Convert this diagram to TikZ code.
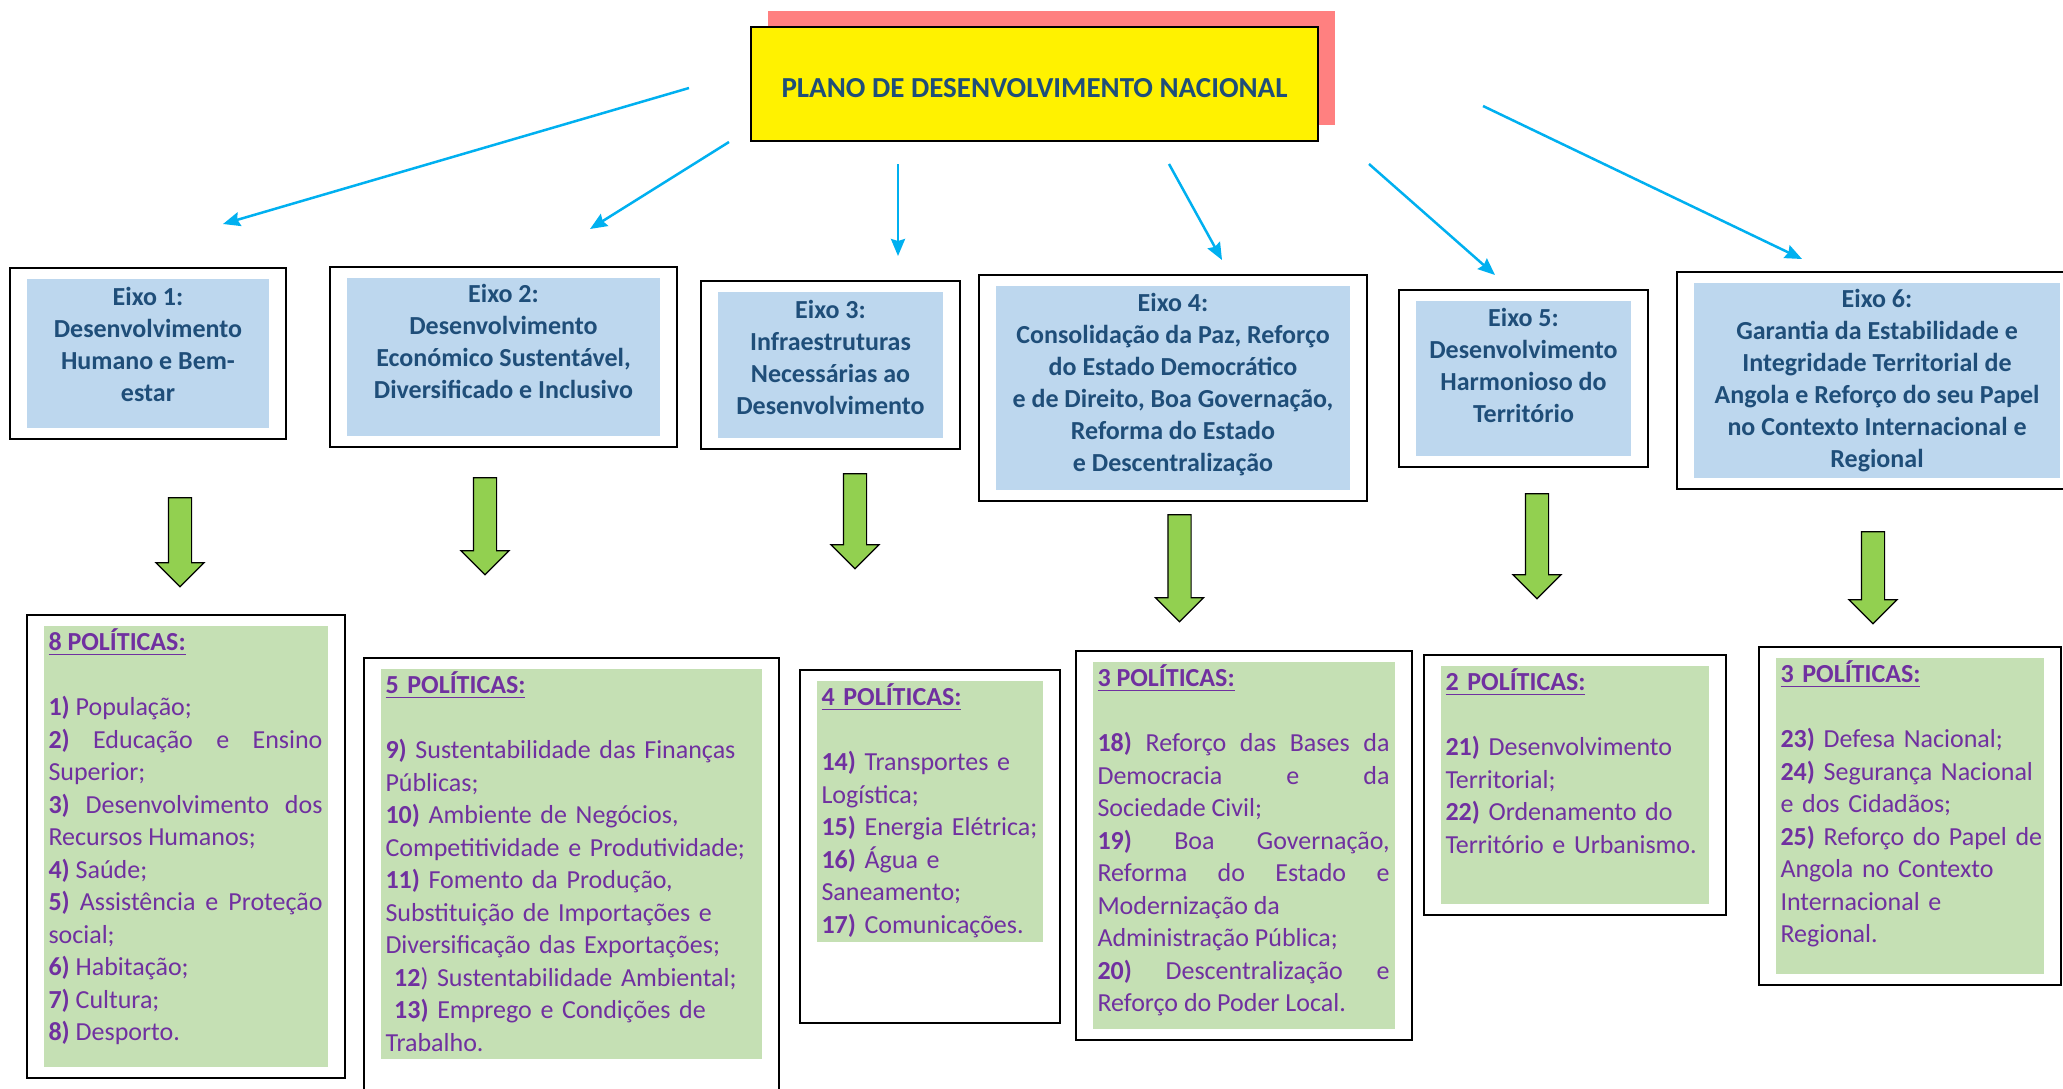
\documentclass[tikz,border=0pt]{standalone}
\usepackage{fontspec}
\setmainfont{Carlito}
\usetikzlibrary{positioning,fit,shapes.arrows,shadows,arrows.meta}

\definecolor{eixoblue}{HTML}{BDD7EE}
\definecolor{eixotext}{HTML}{1F4E79}
\definecolor{polgreen}{HTML}{C5E0B4}
\definecolor{polpurple}{HTML}{7030A0}
\definecolor{linkblue}{HTML}{00B0F0}
\definecolor{arrowgreen}{HTML}{92D050}
\definecolor{titlepink}{HTML}{FF8080}

\tikzset{
  plan/.style={fill=yellow, draw=black, line width=2pt, minimum width=567pt,
    minimum height=114pt, text=eixotext, font=\fontsize{29}{35}\selectfont\bfseries,
    text height=26.7pt,
    general shadow={fill=titlepink, shadow xshift=17pt, shadow yshift=16pt}},
  eixo/.style={fill=eixoblue, text=eixotext, align=center, inner sep=0pt,
    font=\fontsize{26}{32}\selectfont\bfseries},
  frame/.style={draw=black, line width=2pt, inner xsep=16.5pt, inner ysep=10.5pt},
  polfill/.style={fill=polgreen, inner sep=0pt},
  poltext/.style={anchor=north west, text=polpurple, inner xsep=4.5pt,
    inner ysep=3pt, font=\fontsize{26}{32.5}\selectfont},
  link/.style={->, draw=linkblue, line width=2.5pt},
  down/.style={single arrow, draw=black, line width=1.2pt, fill=arrowgreen,
    rotate=-90, inner xsep=0pt, inner ysep=11pt, minimum width=47pt,
    single arrow head extend=12.5pt, single arrow head indent=0pt,
    single arrow tip angle=90}
}
\newcommand{\polhead}[1]{\leavevmode\vtop{\hbox{\textbf{#1 POLÍTICAS:}}\kern2.5pt
  \hrule height 1.8pt}\\[32.5pt]}

\begin{document}
\begin{tikzpicture}[x=1pt,y=-1pt,>={Stealth[length=17pt,width=14pt,inset=2pt]}]
    \useasboundingbox[fill=white] (0,0) rectangle (2063,1088);

    \node[plan] (pdn) at (1034.5,84) {PLANO DE DESENVOLVIMENTO NACIONAL};

    % eixos
    \node[eixo, minimum width=242pt, minimum height=149pt, text depth=18pt] (e1)
    at (148,353.5) {Eixo 1:\\Desenvolvimento\\Humano e Bem-\\estar};
    \node[eixo, minimum width=313pt, minimum height=158pt, text depth=32pt] (e2)
    at (503.5,357) {Eixo 2:\\Desenvolvimento\\Económico Sustentável,\\Diversificado
    e Inclusivo};
    \node[eixo, minimum width=225pt, minimum height=146pt, text depth=16pt] (e3)
    at (830.5,365) {Eixo 3:\\Infraestruturas\\Necessárias ao\\Desenvolvimento};
    \node[eixo, minimum width=354pt, minimum height=204pt, text depth=11pt] (e4)
    at (1173,388) {Eixo 4:\\Consolidação da Paz, Reforço\\do Estado Democrático\\e
    de Direito, Boa Governação,\\Reforma do Estado\\e Descentralização};
    \node[eixo, minimum width=215pt, minimum height=155pt, text depth=26pt] (e5)
    at (1523.5,378.5) {Eixo 5:\\Desenvolvimento\\Harmonioso do\\Território};
    \node[eixo, minimum width=366pt, minimum height=195pt] (e6) at (1877,380.5)
    {Eixo 6:\\Garantia da Estabilidade e\\Integridade Territorial de\\Angola e
    Reforço do seu Papel\\no Contexto Internacional e\\Regional};
    \foreach \i in {1,...,6} \node[frame, fit=(e\i)] (f\i) {};

    % politicas
    \node[polfill, minimum width=284pt, minimum height=441pt] (p1) at (186,846.5) {};
    \node[polfill, minimum width=381pt, minimum height=390pt] (p2) at (571.5,864) {};
    \node[polfill, minimum width=226pt, minimum height=261pt] (p3) at (930,811.5) {};
    \node[polfill, minimum width=302pt, minimum height=367pt] (p4) at (1244,845.5) {};
    \node[polfill, minimum width=268pt, minimum height=238pt] (p5) at (1575,785) {};
    \node[polfill, minimum width=268pt, minimum height=316pt] (p6) at (1910,816) {};
    \coordinate (p2end) at (571.5,1085);
    \coordinate (p3end) at (930,1012.5);

    \node[poltext, text width=274pt, align=justify] (t1) at (p1.north west)
    {\polhead{8}\textbf{1)} População;\\\textbf{2)} Educação e Ensino\linebreak
    Superior;\\\textbf{3)} Desenvolvimento dos\linebreak Recursos Humanos;\\
    \textbf{4)} Saúde;\\\textbf{5)} Assistência e Proteção\linebreak social;\\
    \textbf{6)} Habitação;\\\textbf{7)} Cultura;\\\textbf{8)} Desporto.};
    \node[poltext, text width=390pt, align=left] (t2) at (p2.north west)
    {\polhead{5}\textbf{9)} Sustentabilidade das Finanças\\Públicas;\\
    \textbf{10)} Ambiente de Negócios,\\Competitividade e Produtividade;\\
    \textbf{11)} Fomento da Produção,\\Substituição de Importações e\\
    Diversificação das Exportações;\\\ \textbf{12}) Sustentabilidade Ambiental;\\
    \ \textbf{13)} Emprego e Condições de\\Trabalho.};
    \node[poltext, text width=240pt, align=left] (t3) at (p3.north west)
    {\polhead{4}\textbf{14)} Transportes e\\Logística;\\\textbf{15)} Energia
    Elétrica;\\\textbf{16)} Água e\\Saneamento;\\\textbf{17)} Comunicações.};
    \node[poltext, text width=292pt, align=justify] (t4) at (p4.north west)
    {\polhead{3}\textbf{18)} Reforço das Bases da\linebreak Democracia e
    da\linebreak Sociedade Civil;\\\textbf{19)} Boa Governação,\linebreak
    Reforma do Estado e\linebreak Modernização da\\Administração Pública;\\
    \textbf{20)} Descentralização e\linebreak Reforço do Poder Local.};
    \node[poltext, text width=280pt, align=left] (t5) at (p5.north west)
    {\polhead{2}\textbf{21)} Desenvolvimento\\Territorial;\\\textbf{22)}
    Ordenamento do\\Território e Urbanismo.};
    \node[poltext, text width=280pt, align=left] (t6) at (p6.north west)
    {\polhead{3}\textbf{23)} Defesa Nacional;\\\textbf{24)} Segurança
    Nacional\\e dos Cidadãos;\\\textbf{25)} Reforço do Papel de\\Angola no
    Contexto\\Internacional e\\Regional.};

    \node[frame, fit=(p1)] (q1) {};
    \node[frame, fit=(p2)(p2end)] (q2) {};
    \node[frame, fit=(p3)(p3end)] (q3) {};
    \foreach \i in {4,5,6} \node[frame, fit=(p\i)] (q\i) {};

    % setas verdes
    \foreach \i/\x/\y/\l in {1/180/536.5/89, 2/485/520.5/97, 3/855/515.5/95,
      4/1179.5/562.5/107, 5/1537/540.5/105, 6/1873/572/92}
      \node[down, minimum height=\l] (g\i) at (\x,\y) {};

    % ligacoes
    \coordinate (s1) at (689,88);   \coordinate (a1) at (223,224);
    \coordinate (s2) at (729,142);  \coordinate (a2) at (590,229);
    \coordinate (s3) at (898,164);  \coordinate (a3) at (898,256);
    \coordinate (s4) at (1169,164); \coordinate (a4) at (1222,260);
    \coordinate (s5) at (1369,164); \coordinate (a5) at (1495,275);
    \coordinate (s6) at (1483,106); \coordinate (a6) at (1802,259);
    \foreach \i in {1,...,6} \draw[link] (s\i) -- (a\i);

\end{tikzpicture}
\end{document}
